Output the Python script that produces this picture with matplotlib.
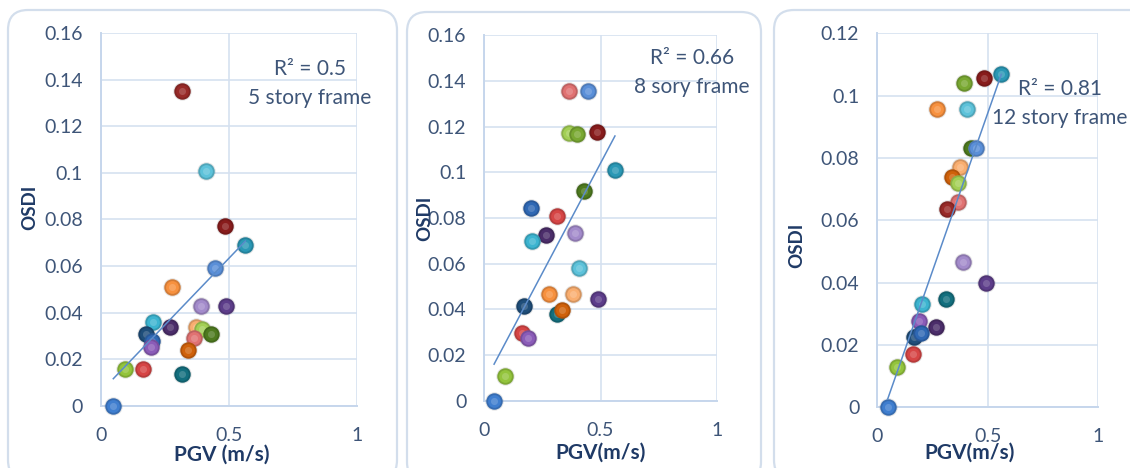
import numpy as np
import matplotlib
matplotlib.use("Agg")
import matplotlib.pyplot as plt
from matplotlib.patches import FancyBboxPatch

plt.rcParams['font.family'] = ['Lato', 'DejaVu Sans']

# Office-style point colours
C = {
    'blue': '#3F7ECF', 'lime': '#93C43C', 'red': '#D64545', 'navy': '#1F4E7A',
    'purple': '#8B5CB8', 'cyan': '#3CB4D0', 'blue2': '#2F68B4', 'dpurple': '#4B2D6A',
    'orange': '#F7913F', 'dteal': '#136F7E', 'dred': '#982A28', 'dorange': '#CF610A',
    'pink': '#E07272', 'lorange': '#F9AE70', 'lgreen': '#A3CF55', 'lpurple': '#A38BCB',
    'green': '#79A832', 'lcyan': '#5DC2DA', 'dgreen': '#4E7A1F', 'lblue': '#5A8FD8',
    'dred2': '#881C1C', 'vpurple': '#5D3D8A', 'teal': '#2A98B5',
}

# 5 story frame
pgv5 = [0.315, 0.410, 0.485, 0.564, 0.447, 0.277, 0.389, 0.488, 0.203, 0.269, 0.373,
        0.393, 0.428, 0.174, 0.198, 0.194, 0.364, 0.338, 0.092, 0.165, 0.315, 0.048]
osdi5 = [0.135, 0.101, 0.077, 0.069, 0.059, 0.051, 0.043, 0.043, 0.036, 0.034, 0.034,
         0.033, 0.031, 0.031, 0.028, 0.0255, 0.029, 0.024, 0.016, 0.016, 0.0137, 0.0]
col5 = ['dred', 'lcyan', 'dred2', 'teal', 'lblue', 'orange', 'lpurple', 'vpurple', 'cyan',
        'dpurple', 'lorange', 'lgreen', 'dgreen', 'navy', 'blue2', 'purple', 'pink',
        'dorange', 'lime', 'red', 'dteal', 'blue']

# 8 story frame
pgv8 = [0.364, 0.448, 0.366, 0.397, 0.485, 0.562, 0.429, 0.199, 0.314, 0.265, 0.390, 0.204,
        0.406, 0.277, 0.380, 0.491, 0.172, 0.313, 0.336, 0.161, 0.189, 0.089, 0.042]
osdi8 = [0.1357, 0.1357, 0.1173, 0.1169, 0.1177, 0.1008, 0.0919, 0.0845, 0.0809, 0.0724,
         0.0734, 0.0701, 0.058, 0.0468, 0.0468, 0.0446, 0.0415, 0.0379, 0.0399, 0.0299,
         0.0277, 0.0109, 0.0]
col8 = ['pink', 'lblue', 'lgreen', 'green', 'dred2', 'teal', 'dgreen', 'blue2', 'red',
        'dpurple', 'lpurple', 'cyan', 'lcyan', 'orange', 'lorange', 'vpurple', 'navy',
        'dteal', 'dorange', 'red', 'purple', 'lime', 'blue']

# 12 story frame
pgv12 = [0.561, 0.484, 0.392, 0.271, 0.406, 0.424, 0.448, 0.376, 0.338, 0.367, 0.364, 0.315,
         0.388, 0.490, 0.309, 0.201, 0.189, 0.265, 0.166, 0.196, 0.163, 0.089, 0.047]
osdi12 = [0.107, 0.1058, 0.104, 0.0956, 0.0958, 0.0831, 0.0831, 0.0772, 0.074, 0.0719,
          0.066, 0.0636, 0.0467, 0.0398, 0.0348, 0.033, 0.0278, 0.0258, 0.0227, 0.024,
          0.0171, 0.013, 0.0]
col12 = ['teal', 'dred2', 'green', 'orange', 'lcyan', 'dgreen', 'lblue', 'lorange', 'dorange',
         'lgreen', 'pink', 'dred', 'lpurple', 'vpurple', 'dteal', 'cyan', 'purple', 'dpurple',
         'navy', 'blue2', 'red', 'lime', 'blue']

x_ticks = [0, 0.5, 1]
y_ticks_a = [0, 0.02, 0.04, 0.06, 0.08, 0.1, 0.12, 0.14, 0.16]
y_ticks_b = [0, 0.02, 0.04, 0.06, 0.08, 0.1, 0.12]

panels = [
    dict(x=pgv5, y=osdi5, c=col5, yt=y_ticks_a, rect=[0.0894, 0.1325, 0.2265, 0.797],
         xlabel='PGV (m/s)', note=['R² = 0.5', '5 story frame'], note_xy=(310, 69),
         box=(8, 10, 389, 470), ylab_x=30, ylab_y=207, xlab_y=455, xlab_cx=222),
    dict(x=pgv8, y=osdi8, c=col8, yt=y_ticks_a, rect=[0.4286, 0.1432, 0.2057, 0.782],
         xlabel='PGV(m/s)', note=['R² = 0.66', '8 sory frame'], note_xy=(692, 58),
         box=(407, 12, 354, 470), ylab_x=425, ylab_y=218, xlab_y=453, xlab_cx=601),
    dict(x=pgv12, y=osdi12, c=col12, yt=y_ticks_b, rect=[0.7764, 0.1297, 0.1956, 0.799],
         xlabel='PGV(m/s)', note=['R² = 0.81', '12 story frame'], note_xy=(1060, 89),
         box=(774, 10, 380, 470), ylab_x=797, ylab_y=245, xlab_y=453, xlab_cx=970),
]

W, H = 1130, 468
fig = plt.figure(figsize=(W / 100, H / 100), dpi=100)
fig.patch.set_facecolor('white')

grid_c = '#D5E1F0'
tick_c = '#3E5578'
label_c = '#1F3A66'


def fx(px):
    return px / W


def fy(py):
    return 1 - py / H


def shade(hexc, f):
    rgb = np.array(matplotlib.colors.to_rgb(hexc))
    if f < 0:
        return tuple(rgb * (1 + f))
    return tuple(rgb + (1 - rgb) * f)


for p in panels:
    bx, by, bw, bh = p['box']
    fig.patches.append(FancyBboxPatch((fx(bx), fy(by + bh)), bw / W, bh / H,
                                      boxstyle='round,pad=0,rounding_size=%f' % (20 / W),
                                      transform=fig.transFigure, facecolor='none',
                                      edgecolor='#D3DEEC', linewidth=1.6,
                                      mutation_aspect=W / H, zorder=0))

    ax = fig.add_axes(p['rect'])
    ax.set_xlim(0, 1)
    ax.set_ylim(0, p['yt'][-1])
    ax.set_xticks(x_ticks)
    ax.set_xticklabels(['0', '0.5', '1'])
    ax.set_yticks(p['yt'])
    ax.set_yticklabels([f'{v:g}' for v in p['yt']])
    ax.grid(True, color=grid_c, linewidth=1.2)
    ax.set_axisbelow(True)
    for s in ['top', 'right']:
        ax.spines[s].set_visible(False)
    for s in ['left', 'bottom']:
        ax.spines[s].set_color('#C6D6EC')
        ax.spines[s].set_linewidth(1.4)
    ax.tick_params(length=0, labelsize=14, labelcolor=tick_c)
    ax.tick_params(axis='y', pad=13)
    ax.tick_params(axis='x', pad=15)
    ax.set_facecolor('none')

    x = np.array(p['x'])
    y = np.array(p['y'])
    cols = [C[k] for k in p['c']]

    # linear trend line over the data range
    k, b = np.polyfit(x, y, 1)
    xs = np.array([x.min(), x.max()])
    ax.plot(xs, k * xs + b, color='#5B8BC9', linewidth=1.1, zorder=5)

    # sphere-like markers: soft shadow, body, highlight
    for xi, yi, ci in zip(x, y, cols):
        ax.scatter([xi], [yi], s=175, color=(0.3, 0.3, 0.3), alpha=0.16, linewidths=0,
                   zorder=3, clip_on=False)
        ax.scatter([xi], [yi], s=140, color=shade(ci, -0.15), linewidths=0, zorder=4,
                   clip_on=False)
        ax.scatter([xi], [yi], s=85, color=ci, linewidths=0, zorder=4, clip_on=False)
        ax.scatter([xi], [yi], s=26, color=shade(ci, 0.25), alpha=0.7, linewidths=0,
                   zorder=4, clip_on=False)

    nx, ny = p['note_xy']
    fig.text(fx(nx), fy(ny), p['note'][0], ha='center', va='center', fontsize=15,
             color=tick_c)
    fig.text(fx(nx), fy(ny + 29), p['note'][1], ha='center', va='center', fontsize=15,
             color=tick_c)

    fig.text(fx(p['ylab_x']), fy(p['ylab_y']), 'OSDI', rotation=90, ha='center',
             va='center', fontsize=13.5, fontweight='bold', color=label_c)
    fig.text(fx(p['xlab_cx']), fy(p['xlab_y']), p['xlabel'], ha='center', va='center',
             fontsize=15, fontweight='bold', color=label_c)

fig.savefig('out.png', dpi=100, facecolor='white')
